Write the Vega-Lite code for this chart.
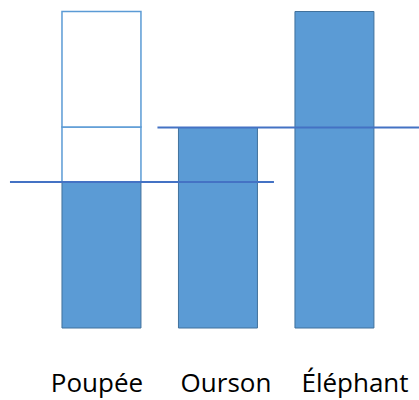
{
  "$schema": "https://vega.github.io/schema/vega-lite/v6.json",
  "width": 419,
  "height": 400,
  "padding": 0,
  "autosize": {"type": "none"},
  "config": {"view": {"stroke": null}},
  "datasets": {
    "barres": [
      {"jouet": "Poupée", "valeur": 146},
      {"jouet": "Ourson", "valeur": 200.5},
      {"jouet": "Éléphant", "valeur": 316.5}
    ],
    "cadre": [
      {"jouet": "Poupée", "bas": 146, "haut": 201},
      {"jouet": "Poupée", "bas": 201, "haut": 316.5}
    ],
    "niveau1": [{"de": "Poupée", "a": "Ourson", "niveau": 146}],
    "niveau2": [{"de": "Ourson", "a": "Éléphant", "niveau": 200.5}]
  },
  "layer": [
    {
      "data": {"name": "barres"},
      "mark": {"type": "bar", "fill": "#5B9BD5", "stroke": "#41719C", "strokeWidth": 1},
      "encoding": {
        "x": {"field": "jouet", "type": "nominal", "axis": null, "sort": null,
              "scale": {"type": "band", "domain": ["Poupée", "Ourson", "Éléphant"], "paddingInner": 0.322, "paddingOuter": 0.4595, "align": 0.579}},
        "y": {"field": "valeur", "type": "quantitative", "axis": null,
              "scale": {"domain": [-72, 328], "nice": false, "zero": false}},
        "y2": {"datum": 0}
      }
    },
    {
      "data": {"name": "cadre"},
      "mark": {"type": "bar", "fill": "#FFFFFF", "stroke": "#5B9BD5", "strokeWidth": 1.5},
      "encoding": {
        "x": {"field": "jouet", "type": "nominal", "axis": null, "sort": null,
              "scale": {"type": "band", "domain": ["Poupée", "Ourson", "Éléphant"], "paddingInner": 0.322, "paddingOuter": 0.4595, "align": 0.579}},
        "y": {"field": "bas", "type": "quantitative", "axis": null},
        "y2": {"field": "haut"}
      }
    },
    {
      "data": {"name": "niveau1"},
      "mark": {"type": "rule", "stroke": "#4472C4", "strokeWidth": 2.2, "xOffset": -91.5, "x2Offset": 56},
      "encoding": {
        "x": {"field": "de", "type": "nominal", "axis": null, "sort": null,
              "scale": {"type": "band", "domain": ["Poupée", "Ourson", "Éléphant"], "paddingInner": 0.322, "paddingOuter": 0.4595, "align": 0.579}},
        "x2": {"field": "a"},
        "y": {"field": "niveau", "type": "quantitative", "axis": null}
      }
    },
    {
      "data": {"name": "niveau2"},
      "mark": {"type": "rule", "stroke": "#4472C4", "strokeWidth": 2.2, "xOffset": -60.5, "x2Offset": 85},
      "encoding": {
        "x": {"field": "de", "type": "nominal", "axis": null, "sort": null,
              "scale": {"type": "band", "domain": ["Poupée", "Ourson", "Éléphant"], "paddingInner": 0.322, "paddingOuter": 0.4595, "align": 0.579}},
        "x2": {"field": "a"},
        "y": {"field": "niveau", "type": "quantitative", "axis": null}
      }
    },
    {
      "data": {"name": "barres"},
      "mark": {"type": "text", "font": "Open Sans", "fontSize": 26, "color": "#000000", "align": "center", "baseline": "alphabetic"},
      "encoding": {
        "x": {"field": "jouet", "type": "nominal", "axis": null, "sort": null,
              "scale": {"type": "point", "domain": ["Poupée", "Ourson", "Éléphant"], "padding": 0.624, "align": 0.6025}},
        "y": {"datum": -64, "type": "quantitative", "axis": null},
        "text": {"field": "jouet"}
      }
    }
  ],
  "resolve": {"scale": {"x": "independent"}}
}
